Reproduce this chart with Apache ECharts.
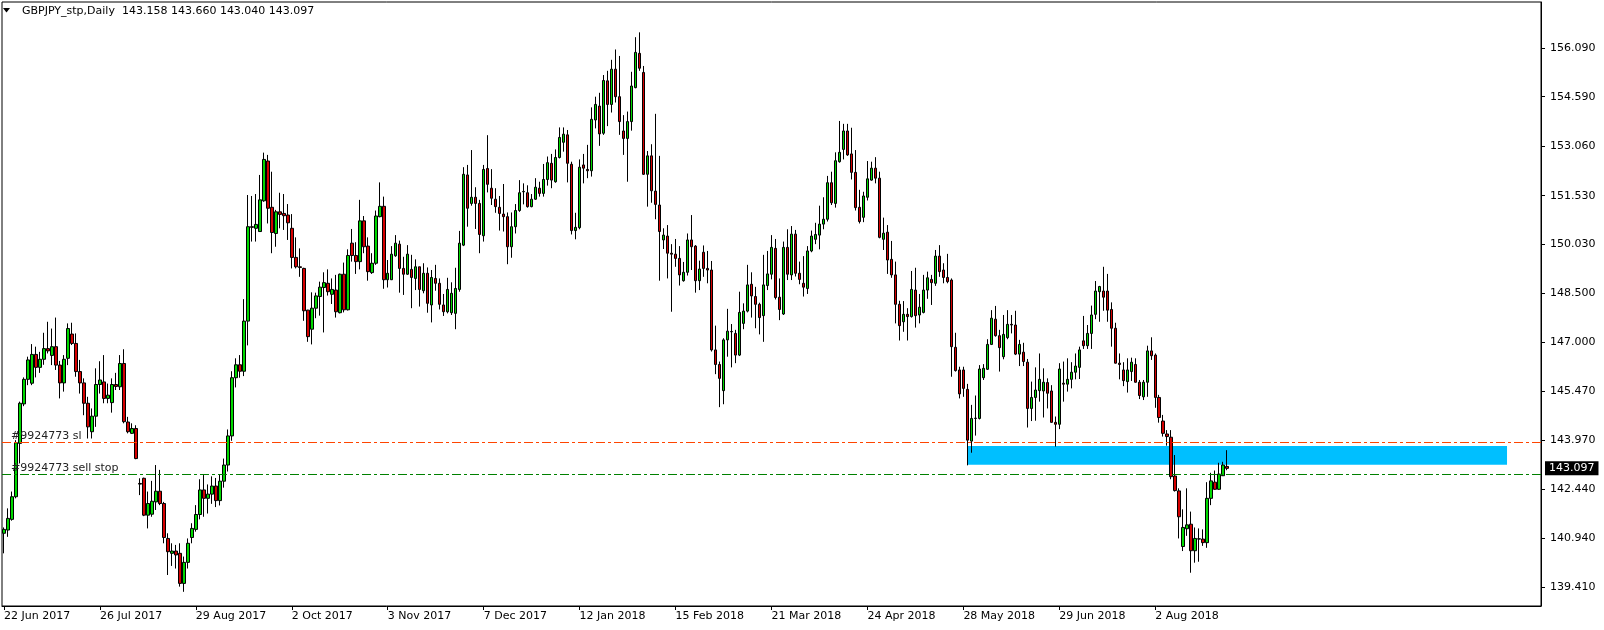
<!DOCTYPE html>
<html><head><meta charset="utf-8">
<script src="https://cdn.jsdelivr.net/npm/echarts@6/dist/echarts.min.js"></script>
<style>html,body{margin:0;padding:0;background:#fff}#c{width:1604px;height:630px}</style>
</head><body><div id="c"></div>
<script>
// ---- data ----
const symbolTitle = 'GBPJPY_stp,Daily';
const headerValues = '143.158 143.660 143.040 143.097';
const opens = [
141.09,141.19,141.52,142.22,143.87,145.09,145.85,145.73,146.62,146.22,
146.47,146.80,146.59,146.86,146.29,145.74,146.50,147.25,146.96,146.09,
145.74,145.11,144.23,144.71,145.69,145.77,145.26,145.13,145.69,145.62,
146.34,144.53,144.18,144.33,142.63,142.79,141.65,141.68,142.06,142.39,
142.01,140.93,140.47,140.54,140.47,139.54,140.19,140.96,141.21,141.67,
142.43,142.17,142.30,142.55,142.10,142.70,143.20,144.10,145.90,146.30,
146.10,147.65,150.57,150.52,150.42,151.37,152.60,151.17,150.36,151.03,
150.98,150.93,150.52,149.62,149.33,149.28,147.99,147.40,148.05,148.41,
148.69,148.82,148.48,148.61,147.91,149.10,148.00,150.06,149.68,149.49,
150.75,149.97,149.15,149.44,150.88,151.20,148.93,148.93,149.67,150.03,
149.28,149.10,149.25,148.97,149.33,148.59,149.13,148.15,148.97,148.82,
148.15,147.94,147.91,147.89,148.63,150.00,152.17,151.29,151.48,151.29,
150.29,152.37,151.76,151.42,151.17,150.96,150.88,149.95,150.57,151.07,
151.65,151.62,151.19,151.42,151.76,151.60,152.03,152.53,151.96,152.71,
153.18,153.41,152.50,150.45,150.54,152.48,152.34,152.30,153.87,154.30,
153.46,155.08,154.35,155.44,154.59,153.53,153.30,153.82,154.87,155.93,
155.34,152.19,152.76,151.67,151.24,150.16,150.28,149.75,149.72,149.59,
148.90,149.16,150.16,149.97,148.90,149.78,149.28,149.23,146.76,146.31,
145.50,147.07,147.33,147.27,146.60,147.58,147.96,148.79,148.41,148.17,
147.82,148.75,149.10,149.90,148.39,147.87,149.93,149.08,150.34,149.13,
148.82,148.66,149.82,150.18,150.31,150.65,150.80,151.93,151.29,152.58,
152.96,153.53,152.82,152.25,151.17,150.86,151.48,152.01,152.38,152.07,
150.18,150.40,149.56,149.08,148.17,147.63,147.86,147.79,148.61,147.84,
147.92,148.61,148.94,148.82,149.66,149.23,149.00,148.92,146.84,146.14,
146.14,145.54,143.94,144.64,144.64,145.90,146.16,146.93,147.71,147.20,
146.55,147.14,147.55,147.53,146.63,146.69,146.38,144.95,145.29,145.50,
145.49,145.75,145.49,144.52,144.46,145.73,145.70,145.85,146.07,146.22,
147.04,146.89,147.27,147.86,148.56,148.58,148.58,148.01,147.43,146.35,
146.14,145.78,146.09,146.31,145.76,145.31,145.76,146.73,146.60,145.29,
144.56,144.16,144.06,142.86,142.40,140.68,141.23,141.37,140.55,140.91,
140.91,140.80,142.17,142.67,142.45,142.87,143.158];
const highs = [
141.27,141.86,142.38,143.97,145.16,145.91,146.55,146.94,146.86,146.70,
147.29,147.63,147.42,147.76,146.42,146.60,147.58,147.60,147.27,146.45,
145.88,145.31,144.95,146.19,146.41,146.60,145.72,145.88,146.05,146.60,
146.78,144.69,144.49,144.43,142.79,142.81,142.38,142.71,143.20,143.05,
142.06,141.09,140.78,140.73,140.78,140.37,140.93,141.40,141.96,142.76,
142.89,142.60,142.85,142.80,142.90,143.40,144.30,146.10,146.50,146.60,
148.33,151.55,151.52,151.58,152.17,152.86,152.79,152.27,151.09,151.62,
151.58,151.27,150.96,150.24,149.90,149.30,148.00,148.54,148.53,148.87,
149.16,149.25,148.97,149.08,149.12,149.46,149.87,150.50,150.09,151.40,
150.90,150.24,149.75,151.07,151.94,151.50,149.54,149.97,150.31,150.14,
149.64,150.00,149.70,149.56,149.33,149.44,149.31,149.23,149.39,148.97,
148.49,148.99,148.85,149.30,150.44,152.41,152.48,152.94,151.79,151.40,
152.48,153.40,152.35,151.76,151.52,151.89,151.01,151.01,151.27,152.01,
151.91,151.85,151.58,152.07,151.96,152.51,152.74,152.82,152.96,153.64,
153.64,153.56,152.58,151.00,152.65,152.82,153.10,154.26,154.59,154.71,
155.26,155.39,155.73,156.05,155.85,154.02,154.13,155.36,156.43,156.58,
155.54,152.91,153.12,154.06,152.76,150.52,150.62,150.03,150.19,149.97,
149.48,150.36,150.93,150.00,149.52,149.99,149.82,149.51,147.51,146.40,
147.12,148.03,147.56,147.38,148.56,148.20,149.39,149.16,148.71,148.22,
149.70,149.82,150.31,150.19,148.97,150.11,150.49,150.59,150.47,149.49,
149.66,149.97,150.45,150.69,151.22,151.48,152.14,152.27,152.87,153.84,
153.75,153.75,153.63,152.94,151.71,151.65,152.60,152.58,152.72,152.27,
150.85,150.62,150.13,149.49,148.28,148.27,148.05,149.20,149.30,148.49,
149.08,149.18,149.08,149.85,150.00,149.44,149.73,148.97,147.29,146.24,
146.24,145.71,145.06,145.35,146.29,146.32,147.09,147.99,148.12,147.38,
147.84,147.99,147.84,147.97,147.07,146.98,146.48,145.78,146.22,146.65,
146.19,145.88,145.67,144.70,146.35,146.40,146.50,146.38,146.65,146.86,
147.81,147.53,148.13,148.89,148.74,149.33,149.11,148.23,147.60,146.65,
146.38,146.50,146.52,146.50,145.83,145.83,146.89,147.15,146.65,145.37,
144.75,144.28,144.28,143.51,142.48,141.83,142.48,141.76,141.27,141.24,
141.21,142.67,142.96,143.03,143.27,143.30,143.660];
const lows = [
140.47,140.98,141.48,142.17,143.25,145.02,145.67,145.67,145.91,146.05,
146.30,146.65,146.29,146.14,145.26,145.47,146.29,146.91,145.93,145.41,
144.74,144.02,144.02,144.38,145.41,145.11,145.11,144.82,145.52,145.52,
144.49,144.18,144.16,143.38,142.27,141.62,141.24,141.60,141.81,141.96,
140.78,139.80,140.08,140.00,139.44,139.28,140.00,140.78,141.14,141.52,
141.60,141.70,142.00,141.90,141.95,142.50,143.00,143.95,145.60,145.90,
145.95,146.90,150.11,150.11,150.42,151.34,150.67,149.75,149.95,150.52,
150.47,150.16,149.28,149.28,149.02,147.66,147.01,146.93,147.74,147.82,
147.30,148.44,148.18,147.76,147.89,147.92,147.98,149.49,149.11,149.25,
149.75,148.90,149.11,149.39,150.86,148.65,148.69,148.92,149.64,148.53,
148.46,149.08,148.05,148.61,148.10,148.51,147.91,147.61,148.59,148.01,
147.81,147.89,147.84,147.40,148.56,149.97,150.57,151.22,150.50,149.75,
150.11,151.63,151.24,151.00,150.45,150.42,149.41,149.61,150.36,151.03,
151.26,151.16,151.17,151.40,151.50,151.50,151.84,151.76,151.93,152.68,
152.89,151.94,150.33,150.18,150.49,151.91,152.07,152.12,153.61,153.07,
153.41,153.68,154.10,154.41,153.41,152.79,151.96,153.54,154.85,155.39,
152.17,151.19,151.31,150.80,148.90,149.88,148.97,147.94,149.33,148.75,
148.87,149.06,149.23,148.53,148.61,149.02,148.82,146.71,146.01,144.99,
145.08,146.55,146.22,146.35,146.57,147.40,147.92,147.76,147.43,147.24,
147.01,148.61,148.94,148.32,147.68,147.84,148.92,148.92,149.03,148.79,
148.41,148.49,149.78,150.03,149.87,150.49,150.73,151.24,151.16,152.55,
152.65,152.76,152.03,151.07,150.67,150.71,151.38,151.99,151.91,150.21,
149.85,149.11,148.99,147.58,147.05,147.32,147.05,147.76,147.45,147.58,
147.89,148.34,148.15,148.74,149.02,148.82,148.82,145.93,146.09,145.26,
145.31,143.19,143.58,144.11,144.61,145.83,146.14,146.91,147.17,146.09,
146.47,147.09,147.27,146.60,146.26,146.26,144.36,144.56,144.57,145.16,
144.67,144.95,144.51,143.77,144.31,145.16,145.47,145.57,145.85,145.86,
146.79,146.79,146.79,147.71,147.63,147.97,147.63,146.86,146.34,145.85,
145.64,145.44,145.80,145.75,145.24,145.21,145.31,146.45,144.97,144.51,
144.08,143.80,142.76,142.38,140.93,140.54,141.01,139.87,140.18,140.21,
140.70,140.64,141.96,142.43,142.43,142.86,143.040];
const closes = [
141.21,141.55,142.22,143.89,145.11,145.85,146.45,146.62,146.22,146.47,
146.80,146.73,146.86,146.29,145.74,146.47,147.42,146.96,146.09,145.74,
145.11,144.38,144.71,145.69,145.83,145.26,145.36,145.69,145.63,146.34,
144.54,144.23,144.33,143.40,142.61,141.65,142.01,142.08,142.39,142.01,
140.96,140.52,140.54,140.42,139.54,140.19,140.78,141.24,141.67,142.43,
142.17,142.30,142.55,142.10,142.70,143.20,144.10,145.90,146.30,146.10,
147.65,150.57,150.55,150.64,151.40,152.65,151.14,150.39,151.03,150.95,
150.91,150.69,149.62,149.33,149.31,147.97,147.17,148.05,148.43,148.70,
148.84,148.56,148.63,147.94,149.10,148.00,149.68,149.68,149.49,150.75,
149.95,149.18,149.44,150.90,151.20,148.93,149.13,149.72,150.06,149.28,
149.10,149.72,149.00,149.33,148.63,149.13,148.20,149.00,148.82,148.17,
147.94,148.63,148.51,148.66,150.06,152.19,151.14,151.48,151.29,150.33,
152.34,151.88,151.45,151.19,150.98,150.88,149.95,150.57,151.07,151.62,
151.66,151.19,151.42,151.79,151.60,152.03,152.55,152.01,152.71,153.33,
153.43,152.53,150.45,150.55,152.41,152.38,152.30,153.89,154.35,153.44,
155.09,154.35,155.44,154.59,153.82,153.30,153.82,154.92,155.96,155.47,
152.19,152.76,151.68,151.26,150.42,150.31,149.75,149.72,149.59,149.08,
149.16,150.16,149.95,148.90,149.26,149.28,149.23,146.76,146.31,145.88,
147.07,147.34,147.32,146.60,147.92,147.96,148.77,148.43,148.17,147.76,
148.77,149.11,149.93,148.38,148.01,149.93,149.10,150.34,149.13,148.94,
148.70,149.82,150.28,150.33,150.65,150.80,151.93,151.31,152.61,152.87,
153.53,152.79,152.25,151.16,150.73,151.52,152.05,152.38,152.07,150.24,
150.37,149.54,149.08,148.17,147.51,147.86,147.79,148.63,147.82,148.08,
148.61,148.99,148.84,149.66,149.18,149.00,148.87,146.86,146.12,145.40,
145.57,143.97,144.64,144.65,146.17,146.19,146.93,147.74,147.20,146.83,
147.24,147.55,147.53,146.63,146.93,146.40,144.95,145.29,145.52,145.85,
145.76,145.42,144.52,144.46,146.17,145.70,145.85,146.07,146.26,146.76,
146.89,147.27,147.84,148.58,148.72,148.39,147.99,147.43,146.35,146.31,
145.81,146.14,146.38,145.76,145.35,145.76,146.73,146.58,145.29,144.67,
144.18,144.08,142.84,142.41,141.60,141.27,141.35,140.55,140.93,140.92,
140.80,142.17,142.71,142.45,142.92,143.20,143.097];
const priceTicks = [139.41,140.94,142.44,143.97,145.47,147.00,148.50,150.03,151.53,153.06,154.59,156.09];
const slLabel = '#9924773 sl', slPrice = 143.90;
const sellStopLabel = '#9924773 sell stop', sellStopPrice = 142.91;
const lastPrice = 143.097;
const zoneStart = 241, zoneEnd = 376, zoneTop = 143.79, zoneBottom = 143.21;
const firstDate = '2017-06-22';
const skippedDates = ['2017-12-25', '2018-01-01'];
const slotCount = 385;
const labelEvery = 24;

// ---- build ----
const MON = ['Jan','Feb','Mar','Apr','May','Jun','Jul','Aug','Sep','Oct','Nov','Dec'];
const categories = [];
{
  const d = new Date(firstDate + 'T00:00:00Z');
  while (categories.length < slotCount) {
    const dow = d.getUTCDay();
    const key = d.toISOString().slice(0, 10);
    if (dow !== 0 && dow !== 6 && skippedDates.indexOf(key) < 0) {
      categories.push(d.getUTCDate() + ' ' + MON[d.getUTCMonth()] + ' ' + d.getUTCFullYear());
    }
    d.setUTCDate(d.getUTCDate() + 1);
  }
}
const lastIdx = opens.length - 1;
const candles = opens.map((o, i) => [o, closes[i], lows[i], highs[i]]);
const FONT = 'DejaVu Sans';
const showIdx = (idx) => idx % labelEvery === 0 && idx <= lastIdx;

const chart = echarts.init(document.getElementById('c'), null, {renderer: 'canvas'});
chart.setOption({
  animation: false,
  backgroundColor: '#ffffff',
  grid: {left: 2, top: 2, right: 63, bottom: 24, show: true, borderColor: '#000', borderWidth: 1, backgroundColor: 'transparent'},
  graphic: [
    {type: 'polygon', shape: {points: [[3, 8], [10, 8], [6.5, 12.5]]}, style: {fill: '#000'}, z: 100},
    {type: 'text', x: 22, y: 11, z: 100, style: {text: symbolTitle + '  ' + headerValues, font: '11px "DejaVu Sans"', fill: '#000', verticalAlign: 'middle'}}
  ],
  xAxis: {
    type: 'category', data: categories, boundaryGap: true,
    axisLine: {lineStyle: {color: '#000', width: 1}},
    axisTick: {show: true, interval: showIdx, alignWithLabel: true, length: 4, lineStyle: {color: '#000'}},
    axisLabel: {interval: showIdx, align: 'left', margin: 5, color: '#000', fontFamily: FONT, fontSize: 11},
    splitLine: {show: false}
  },
  yAxis: {
    type: 'value', position: 'right', scale: true, min: 138.841, max: 157.518,
    axisLine: {show: true, lineStyle: {color: '#000', width: 1}},
    axisTick: {show: true, length: 4, customValues: priceTicks, lineStyle: {color: '#000'}},
    axisLabel: {customValues: priceTicks, margin: 9, color: '#000', fontFamily: FONT, fontSize: 11, formatter: (v) => v.toFixed(3)},
    splitLine: {show: false}
  },
  series: [
    {
      type: 'line', data: categories.map(() => null), z: 1, silent: true, showSymbol: false,
      markArea: {silent: true, itemStyle: {color: '#00BFFF'}, data: [[{xAxis: zoneStart, yAxis: zoneTop}, {xAxis: zoneEnd, yAxis: zoneBottom}]]},
      markLine: {
        silent: true, symbol: 'none', animation: false,
        data: [
          {yAxis: slPrice, lineStyle: {color: '#FF4500', width: 1, type: [9, 3, 3, 3]},
           label: {show: true, position: 'insideStartTop', formatter: slLabel, color: '#222', fontFamily: FONT, fontSize: 11, distance: [9, 1]}},
          {yAxis: sellStopPrice, lineStyle: {color: '#008000', width: 1, type: [9, 3, 3, 3]},
           label: {show: true, position: 'insideStartTop', formatter: sellStopLabel, color: '#222', fontFamily: FONT, fontSize: 11, distance: [9, 1]}}
        ]
      }
    },
    {
      type: 'candlestick', data: candles, z: 3, barWidth: 3,
      itemStyle: {color: '#00D800', color0: '#D40000', borderColor: '#000', borderColor0: '#000', borderColorDoji: '#000', borderWidth: 1},
      markLine: {
        silent: true, symbol: 'none', animation: false,
        data: [
          {yAxis: lastPrice, lineStyle: {color: 'rgba(0,0,0,0)', width: 1},
           label: {show: true, position: 'end', formatter: lastPrice.toFixed(3), color: '#fff', backgroundColor: '#000', padding: [2, 4, 1, 4], fontFamily: FONT, fontSize: 11, distance: 4}}
        ]
      }
    }
  ]
});
</script></body></html>
